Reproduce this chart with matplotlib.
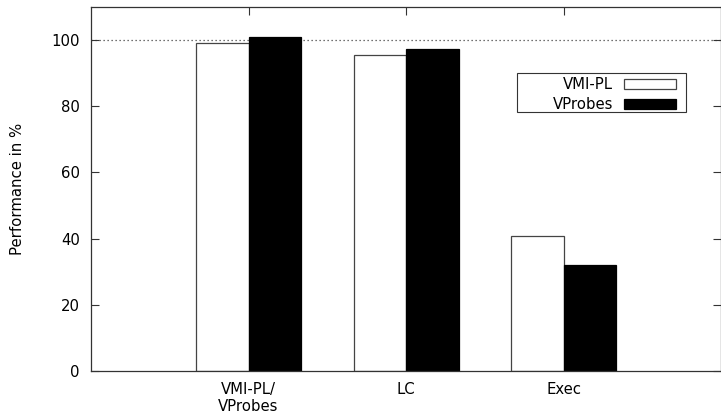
import matplotlib
matplotlib.use("Agg")
import matplotlib.pyplot as plt
from matplotlib.patches import Rectangle
import numpy as np

# values
categories = ["VMI-PL/\nVProbes", "LC", "Exec"]
vmipl = [99.2, 95.5, 40.8]
vprobes = [100.9, 97.4, 32.1]
yticks = [0, 20, 40, 60, 80, 100]

plt.rcParams['font.family'] = ['DejaVu Sans']
plt.rcParams['font.size'] = 10.7

fig = plt.figure(figsize=(7.21, 4.17), dpi=100)
ax = fig.add_axes([91 / 721, 1 - 371 / 417, 1 - 91 / 721, (371 - 7) / 417])

x = np.arange(len(categories))
w = 1 / 3
ax.bar(x - w / 2, vmipl, width=w, color='white', edgecolor='#444444',
       linewidth=0.9, label='VMI-PL', zorder=2)
ax.bar(x + w / 2, vprobes, width=w, color='black', edgecolor='black',
       linewidth=0.9, label='VProbes', zorder=2)

# reference line at 100 %
ax.axhline(100, color='#444444', linestyle=(0, (1, 2.2)), linewidth=0.9, zorder=1)

ax.set_xlim(-1, 3)
ax.set_ylim(0, 110)
ax.set_xticks(x)
ax.set_xticklabels(categories, linespacing=1.15)
ax.set_yticks(yticks)
ax.tick_params(direction='in', length=6, width=0.8, color='#333333',
               top=True, right=True)
ax.tick_params(axis='y', pad=8)
ax.tick_params(axis='x', pad=8)
for s in ax.spines.values():
    s.set_color('#333333')
    s.set_linewidth(0.9)
ax.set_ylabel('Performance in %')
ax.yaxis.set_label_coords((25 - 91) / 630, 0.5)

# legend (gnuplot style: label then sample, boxed)
leg = fig.legend(loc='upper right', bbox_to_anchor=(683 / 721, 1 - 70 / 417),
                 frameon=False, markerfirst=False, borderpad=0,
                 handlelength=3.5, handleheight=0.65, handletextpad=0.7,
                 labelspacing=0.3, fontsize=10.7)
fig.patches.append(Rectangle((517 / 721, 1 - 112 / 417), (686 - 517) / 721,
                             (112 - 73) / 417, transform=fig.transFigure,
                             fill=False, edgecolor='#333333', linewidth=0.8))

fig.savefig('out.png', dpi=100)
